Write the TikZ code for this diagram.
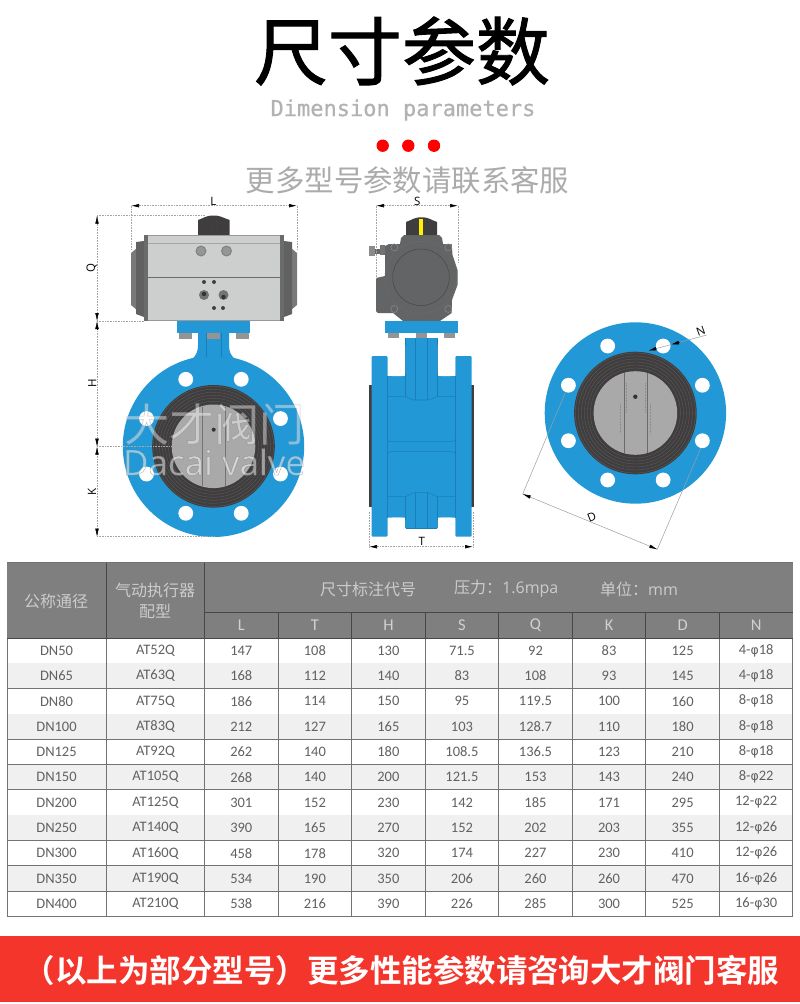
\documentclass[tikz,border=0pt]{standalone}
\usepackage{fontspec}
\setmainfont{Noto Sans CJK SC}
\newfontfamily\cjkl{Noto Sans CJK SC}
\newfontfamily\cjkfb{Noto Sans CJK SC}[FakeBold=1.3]
\newfontfamily\cjkb{Noto Sans CJK SC}[BoldFont={Noto Sans CJK SC Bold}]
\newfontfamily\lat{Open Sans}
\newfontfamily\carl{Carlito}
\newfontfamily\mon{DejaVu Sans Mono}[FakeBold=0.6]
\newfontfamily\phifont{DejaVu Sans}
\usetikzlibrary{arrows.meta,calc}
\definecolor{bluev}{HTML}{2299D6}
\definecolor{blued}{HTML}{1B7FB5}
\definecolor{rub}{HTML}{3F3D3D}
\definecolor{disc}{HTML}{A9A9A9}
\definecolor{hdr}{HTML}{7F7F7F}
\definecolor{act}{HTML}{CDCFCF}
\definecolor{capg}{HTML}{787979}
\definecolor{cast}{HTML}{636465}
\definecolor{ban}{HTML}{F4352B}
\tikzset{
 tipk/.tip={Latex[length=8pt,width=3.6pt,color=black,fill=black]},
 dimline/.style={draw=black!35,densely dotted,line width=.6pt},
 dimtip/.style={draw=black!35,densely dotted,line width=.6pt,tipk-tipk},
 onetip/.style={draw=black,line width=.5pt,-tipk},
 thin grey/.style={draw=black!38,line width=.5pt},
 dimtxt/.style={font=\fontsize{11.5}{11.5}\selectfont\lat,text=black,inner sep=0pt},
 cell/.style={font=\fontsize{14.5}{14.5}\selectfont\carl,text=black!62,inner sep=0pt},
 hcell/.style={font=\fontsize{16.5}{16.5}\selectfont\carl,text=white!82!black,inner sep=0pt},
 hcjk/.style={font=\fontsize{16}{20.5}\selectfont\cjkl,text=white!80!black,inner sep=0pt,align=center},
 grid line/.style={draw=black!55,line width=.8pt},
 head line/.style={draw=black!72,line width=.9pt},
}
\begin{document}
\begin{tikzpicture}[x=1pt,y=-1pt]
\useasboundingbox (0,0) rectangle (800,1004);
\fill[white] (0,0) rectangle (800,1004);
% titles
\node[font=\fontsize{74}{74}\selectfont\cjkfb,inner sep=0pt] (title) at (402,51) {尺寸参数};
\node[font=\fontsize{22}{22}\selectfont\mon,text=black!30,inner sep=0pt] (sub) at (403,110) {Dimension parameters};
\fill[red] (382.7,145.7) circle (6.2);
\fill[red] (408.3,145.7) circle (6.2);
\fill[red] (434,145.7) circle (6.2);
\node[font=\fontsize{29.4}{29.4}\selectfont\cjkl,text=black!33,inner sep=0pt] (more) at (407.5,180) {更多型号参数请联系客服};

% === front view
\coordinate (fc) at (213.5,446.3);
\fill[bluev] (198,330) -- (229,330) -- (229,345) .. controls (229,352) and (231,356) .. (236,360) -- (191,360) .. controls (196,356) and (198,352) .. (198,345) -- cycle;
\fill[bluev] (177,321) rectangle (250,333);
\fill[bluev] (fc) circle (90.7);
\draw[blued,line width=.5pt] (206,333)--(206,357) (221,333)--(221,357);
\foreach \x in {185.5,213.5,242}{\fill[black!42] (\x-6.5,333) rectangle (\x+6.5,338.5);}
\foreach \a in {22.5,67.5,...,337.5}{\fill[white] ($(fc)+(\a:72.5)$) circle (7.4);}
\fill[rub] (fc) circle (61.3);
\foreach \r in {45,48,51,54,57,60}{\draw[black!62,line width=.3pt] (fc) circle (\r);}
\fill[disc] (fc) circle (41.8);
\draw[black!55,line width=.4pt] (202,407)--(202,486) (225,407)--(225,486);
\fill[black!80] (213.7,429.7) circle (2);
% actuator caps
\fill[capg] (144,245) -- (137,248) -- (131,253) -- (131,305) -- (137,310) -- (144,313) -- cycle;
\fill[capg] (284,245) -- (291,248) -- (297,253) -- (297,305) -- (291,310) -- (284,313) -- cycle;
\fill[black!62] (136,242) -- (144,241) -- (144,317) -- (136,314) -- cycle;
\fill[black!62] (292,242) -- (284,241) -- (284,317) -- (292,314) -- cycle;
% knob
\fill[rub] (198,236) -- (198,220) .. controls (204,218) and (206,215.5) .. (213.5,215.5) .. controls (221,215.5) and (223,218) .. (229.7,220) -- (229.7,236) -- cycle;
\draw[black!75,line width=.4pt] (211,220)--(211,235) (216,220)--(216,235);
% body
\fill[act] (144,235) rectangle (284,321);
\draw[black!35,line width=.9pt] (148,243)--(280,243);
\draw[black!58,line width=.6pt] (148,277)--(280,277);
\draw[black!40,line width=1.2pt] (144,235.6)--(284,235.6) (144,320.4)--(284,320.4);
\fill[black!58] (144,235) rectangle (148,321);
\fill[black!58] (280,235) rectangle (284,321);
\fill[black!50] (201,251) circle (5.5);\fill[black!50] (226.5,251) circle (5.5);
\fill[act!72!black] (201,251) circle (4.3);\fill[act!72!black] (226.5,251) circle (4.3);
\foreach \x/\y in {204/282,214/282,214/308,223/308}{\fill[black!75] (\x,\y) circle (2);}
\fill[black!55] (204,295) circle (5);\fill[black!55] (223.5,295) circle (5);
\fill[black!80] (204,294) circle (2.2);\fill[black!80] (223.5,297) circle (2.2);
% dim lines front
\coordinate (la) at (131,205.7);\coordinate (lb) at (297,205.7);
\draw[dimline] (131,205.7)--(131,250) (297,205.7)--(297,250);
\draw[dimtip] (la)--(lb);
\node[dimtxt] (L) at (213.3,201) {L};
\draw[dimline] (97,215.7)--(205,215.7) (97,321)--(144,321) (97,446.7)--(207,446.7) (97,536.7)--(214,536.7);
\draw[dimline] (97,215.7)--(97,536.7);
\foreach \a/\b in {215.7/223.7,321/313,321/329,446.7/438.7,446.7/454.7,536.7/528.7}{\draw[onetip] (97,\b)--(97,\a);}
\node[dimtxt,rotate=90] (Q) at (91.7,268.3) {Q};
\node[dimtxt,rotate=90] (H) at (92.3,383) {H};
\node[dimtxt,rotate=90] (K) at (92,491.7) {K};

% === side view
\fill[cast] (376,278) -- (385,276) -- (385,246) -- (389,244) -- (400,244) -- (401,238) -- (404,235) -- (439,235) -- (442,238) -- (443,244) -- (451.7,244) -- (452.5,255) -- (457.5,270) -- (457.5,285) -- (452,300) -- (451.7,313) -- (440,321) -- (403,321) -- (393,313) -- (378,313) -- (376,311) -- cycle;
\fill[rub] (406,235) -- (406,222) .. controls (412,220) and (414,217.3) .. (421.5,217.3) .. controls (429,217.3) and (431,220) .. (437,222) -- (437,235) -- cycle;
\fill[yellow] (419.3,218.5) rectangle (423.3,235);
\draw[black!58,line width=.5pt] (421,277.3) circle (36);
\draw[black!72,line width=.5pt] (421,277.3) circle (28.3);
\foreach \x/\y in {394.3/247.3,448.3/247.3,394.3/309,448.3/309}{\draw[black!45,line width=.5pt] (\x,\y) circle (3.5);}
\fill[black!60] (369,248.5) rectangle (384.5,253.5);
\fill[black!45] (369,246) rectangle (375,255.5);
\fill[black!55] (380,245) rectangle (384.5,255);
\fill[bluev] (385,321) rectangle (458.3,332.7);
\foreach \x/\w in {393.2/5.5,421.3/5.3,449.6/5.3}{\fill[black!42] (\x-\w,332.7) rectangle (\x+\w,338.3);}
\fill[bluev] (405.7,338.3) rectangle (437.3,360);
\fill[rub] (369.3,385) rectangle (372,506.7);
\fill[rub] (471,385) rectangle (473.8,506.7);
% flanges
\fill[bluev,rounded corners=1pt] (371.7,356) rectangle (387.5,536.7);
\fill[bluev,rounded corners=1pt] (455.3,356) rectangle (471.7,536.7);
\fill[bluev] (387,376) -- (405.7,376) -- (405.7,350) -- (437.3,350) -- (437.3,376) -- (456,376) -- (456,517.7) -- (437.3,517.7) -- (437.3,528.3) -- (405.7,528.3) -- (405.7,517.7) -- (387,517.7) -- cycle;
% side details
\tikzset{bl/.style={blued,line width=.55pt}}
\draw[bl] (387.5,376)--(387.5,517.7) (455.3,376)--(455.3,517.7);
\draw[bl] (387.5,396.7)--(405.7,396.7) -- (413.3,400) -- (428.3,400) -- (437.3,396.7) -- (455.3,396.7);
\draw[bl] (405.7,338.3)--(405.7,396.7) (437.3,338.3)--(437.3,396.7) (415,338.3)--(415,400) (427.7,338.3)--(427.7,400);
\draw[bl,rounded corners=3pt] (387.5,436) -- (387.5,441.7) -- (455.3,441.7) -- (455.3,436);
\draw[bl,rounded corners=3pt] (387.5,458) -- (387.5,451.7) -- (455.3,451.7) -- (455.3,458);
\draw[bl] (387.5,496.7)--(405.7,496.7) -- (413.3,492.7) -- (428.3,492.7) -- (437.3,496.7) -- (455.3,496.7);
\draw[bl] (405.7,496.7)--(405.7,528.3) (437.3,496.7)--(437.3,528.3) (415,492.7)--(415,528.3) (427.7,492.7)--(427.7,528.3);
\draw[bl] (405.7,528.3)--(437.3,528.3);
% white notches
\fill[white] (388,345) -- (388,372) .. controls (388,375) and (389,376) .. (392,376) -- (402,376) .. controls (405,376) and (405.2,375) .. (405.2,372) -- (405.2,345) -- cycle;
\fill[white] (437.8,345) -- (437.8,372) .. controls (437.8,375) and (438,376) .. (441,376) -- (451,376) .. controls (454,376) and (455,375) .. (455,372) -- (455,345) -- cycle;
\fill[white] (388,540) -- (388,521) .. controls (388,519) and (389,517.7) .. (392,517.7) -- (402,517.7) .. controls (404,517.7) and (405.2,519) .. (405.2,521) -- (405.2,540) -- cycle;
\fill[white] (437.8,540) -- (437.8,521) .. controls (437.8,519) and (439,517.7) .. (441,517.7) -- (451,517.7) .. controls (453,517.7) and (455,519) .. (455,521) -- (455,540) -- cycle;
% side dims
\draw[dimline] (376,205.7)--(376,278) (458,205.7)--(458,262);
\draw[dimtip] (376,205.7)--(458,205.7);
\node[dimtxt] (S) at (417.3,201) {S};
\draw[dimline] (369,511.7)--(369,547) (473,511.7)--(473,547);
\draw[dimtip] (369,546.7)--(473,546.7);
\node[dimtxt] (T) at (421.7,541) {T};

% === round view
\coordinate (rc) at (635.4,413);
\fill[bluev] (rc) circle (90.7);
\foreach \a in {22.5,67.5,...,337.5}{\fill[white] ($(rc)+(\a:72.5)$) circle (7.4);}
\fill[rub] (rc) circle (61.3);
\foreach \r in {45,48,51,54,57,60}{\draw[black!62,line width=.3pt] (rc) circle (\r);}
\fill[disc] (rc) circle (41.8);
\draw[black!58,line width=.5pt] (624,373)--(624,453) (647.3,373)--(647.3,453);
\draw[black!45,line width=.5pt,densely dotted] (620.5,404)--(620.5,434) (626,383)--(626,412) (645,383)--(645,412) (650,404)--(650,434);
\fill[black!80] (635.3,396.7) circle (2.2);
% D and N
\draw[thin grey] (565,393.3)--(522.7,494) (700.7,448.3)--(657.3,549.3);
\draw[thin grey] (522.7,494)--(657.3,549.3);
\draw[onetip] (530.5,497.2)--(522.7,494);
\draw[onetip] (649.5,546.1)--(657.3,549.3);
\node[dimtxt,rotate=22] (D) at (591.7,516.7) {D};
\draw[thin grey] (648.3,350.7)--(706.7,335);
\draw[onetip] (656.3,348.6)--(648.3,350.7);
\draw[onetip] (680,342.2)--(671,344.6);
\node[dimtxt,rotate=20] (N) at (700.7,331) {N};

% watermark
\node[font=\fontsize{45}{45}\selectfont\cjkl,text=white,opacity=.42,inner sep=0pt] (wm1) at (214,424) {\special{pdf:code 2 Tr 0.5 w 0.45 G}大才阀门\special{pdf:code 0 Tr}};
\node[font=\fontsize{35}{35}\selectfont\lat,text=white,opacity=.5,inner sep=0pt] (wm2) at (214,462) {\special{pdf:code 2 Tr 0.5 w 0.45 G}Dacai valve\special{pdf:code 0 Tr}};

% === table
\fill[hdr] (7,562.5) rectangle (792.5,638);
\foreach \i in {0,...,10}{
 \pgfmathsetmacro\ya{638+25.3*\i}
 \pgfmathsetmacro\yb{638+25.3*(\i+1)}
 \ifodd\i \fill[black!6] (7,\ya) rectangle (792.5,\yb);\fi
 \draw[grid line] (7,\yb)--(792.5,\yb);
}
\foreach \x in {7,106,204.5,278,351.7,425,498.7,572.3,645.7,719.3,792.5}{\draw[grid line] (\x,638)--(\x,916.3);}
\draw[black!55,line width=1pt] (7,562.5)--(792.5,562.5);
\draw[head line] (106,562.5)--(106,638) (204.5,562.5)--(204.5,638) (204.5,612.5)--(792.5,612.5) (7,638)--(792.5,638);
\foreach \x in {278,351.7,425,498.7,572.3,645.7,719.3}{\draw[head line] (\x,612.5)--(\x,638);}
\node[hcjk] (h1) at (56,601) {公称通径};
\node[hcjk] (h2) at (155,601) {气动执行器\\配型};
\node[hcjk] (h3) at (368,589) {尺寸标注代号};
\node[hcjk,anchor=west] (h4) at (454,589) {压力：\fontspec{Open Sans}1.6mpa};
\node[hcjk,anchor=west] (h5) at (600,589) {单位：\fontspec{Open Sans}mm};
\foreach \t [count=\i] in {L,T,H,S,Q,K,D,N}{
  \pgfmathsetmacro\cx{241.3+73.55*(\i-1)}
  \node[hcell] (hc\i) at (\cx,625.5) {\t};
}
\def\ph{{\phifont\fontsize{12.5}{12.5}\selectfont φ}}
\foreach \i/\r in {0/{DN50,AT52Q,147,108,130,71.5,92,83,125,4-\ph18},
 1/{DN65,AT63Q,168,112,140,83,108,93,145,4-\ph18},
 2/{DN80,AT75Q,186,114,150,95,119.5,100,160,8-\ph18},
 3/{DN100,AT83Q,212,127,165,103,128.7,110,180,8-\ph18},
 4/{DN125,AT92Q,262,140,180,108.5,136.5,123,210,8-\ph18},
 5/{DN150,AT105Q,268,140,200,121.5,153,143,240,8-\ph22},
 6/{DN200,AT125Q,301,152,230,142,185,171,295,12-\ph22},
 7/{DN250,AT140Q,390,165,270,152,202,203,355,12-\ph26},
 8/{DN300,AT160Q,458,178,320,174,227,230,410,12-\ph26},
 9/{DN350,AT190Q,534,190,350,206,260,260,470,16-\ph26},
 10/{DN400,AT210Q,538,216,390,226,285,300,525,16-\ph30}}{
 \pgfmathsetmacro\cy{650.7+25.3*\i}
 \foreach \t [count=\j] in \r {
   \ifnum\j=1 \def\cx{56.5}\else\ifnum\j=2 \def\cx{155.5}\else\pgfmathsetmacro\cx{241.3+73.55*(\j-3)}\fi\fi
   \node[cell] (c\i-\j) at (\cx,\cy) {\t};
 }
}
% banner
\fill[ban] (0,936) rectangle (800,1002);
\node[font=\fontsize{31.5}{31.5}\selectfont\cjkb\bfseries,text=white,inner sep=0pt] (banner) at (401.5,970) {（以上为部分型号）更多性能参数请咨询大才阀门客服};
\end{tikzpicture}
\end{document}
